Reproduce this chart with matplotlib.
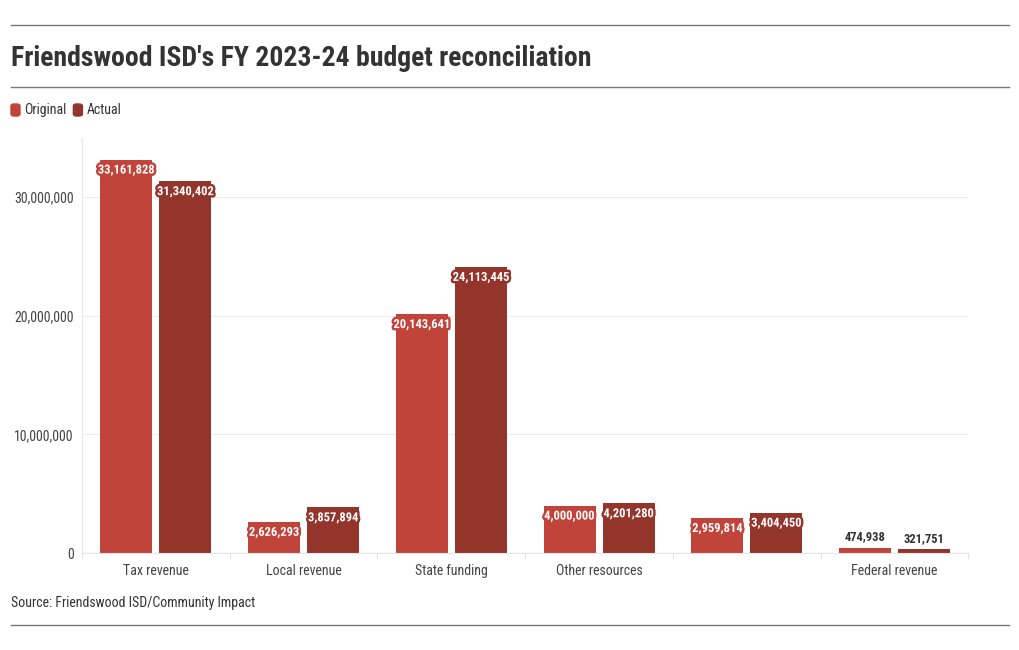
import matplotlib
matplotlib.use("Agg")
import matplotlib.pyplot as plt
import matplotlib.patheffects as pe
from matplotlib.patches import FancyBboxPatch
from matplotlib.ticker import FuncFormatter
import numpy as np

categories = ["Tax revenue", "Local revenue", "State funding", "Other resources", "", "Federal revenue"]
original = [33161828, 2626293, 20143641, 4000000, 2959814, 474938]
actual = [31340402, 3857894, 24113445, 4201280, 3404450, 321751]
series = ["Original", "Actual"]
colors = ["#c1443b", "#94352c"]

plt.rcParams['font.family'] = ['Roboto Condensed', 'Roboto', 'DejaVu Sans']

fig = plt.figure(figsize=(10.2, 6.5), dpi=100)
ax = fig.add_axes([0.0804, 0.149, 0.869, 0.639])

x = np.arange(len(categories))
w = 0.352
off = 0.2
for vals, c, sgn in [(original, colors[0], -1), (actual, colors[1], 1)]:
    bars = ax.bar(x + sgn * off, vals, width=w, color=c, zorder=2)
    for b, v in zip(bars, vals):
        cx = b.get_x() + b.get_width() / 2
        lbl = f"{v:,}"
        if v > 1500000:
            # label sits inside the top of the bar with a halo in bar colour
            t = ax.annotate(lbl, (cx, v), xytext=(0, -7.5), textcoords="offset points",
                            ha="center", va="center", fontsize=9, fontweight="bold",
                            color="white", zorder=4)
            t.set_path_effects([pe.Stroke(linewidth=3.5, foreground=c), pe.Normal()])
        else:
            ax.annotate(lbl, (cx, v), xytext=(0, 8), textcoords="offset points",
                        ha="center", va="center", fontsize=9, fontweight="bold",
                        color="#333333", zorder=4)

ax.set_xlim(-0.5, len(categories) - 0.5)
ax.set_ylim(0, 35000000)
ax.set_yticks([0, 10000000, 20000000, 30000000])
ax.yaxis.set_major_formatter(FuncFormatter(lambda v, p: f"{int(v):,}"))
ax.set_xticks(x)
ax.set_xticklabels(categories)
ax.set_xticks(np.arange(len(categories) + 1) - 0.5, minor=True)
ax.tick_params(axis="x", which="major", length=0, pad=8, labelsize=10, labelcolor="#444444")
ax.tick_params(axis="x", which="minor", length=4, color="#dddddd")
ax.tick_params(axis="y", length=0, pad=6, labelsize=10, labelcolor="#444444")
ax.grid(axis="y", color="#eeeeee", linewidth=1, zorder=0)
for s in ["top", "right"]:
    ax.spines[s].set_visible(False)
ax.spines["left"].set_color("#e6e6e6")
ax.spines["bottom"].set_color("#e6e6e6")

# header / footer
for yy in [25, 87, 625]:
    fig.add_artist(plt.Line2D([11 / 1020, 1009 / 1020], [1 - yy / 650] * 2, color="#777777", linewidth=1))
fig.text(11 / 1020, 1 - 58 / 650, "Friendswood ISD's FY 2023-24 budget reconciliation",
         fontsize=20, fontweight="bold", color="#333333", va="center", ha="left")

lx = 11
for name, c in zip(series, colors):
    fig.add_artist(FancyBboxPatch((lx / 1020, 1 - 116 / 650), 9 / 1020, 12 / 650,
                                  boxstyle="round,pad=0,rounding_size=0.003", color=c,
                                  transform=fig.transFigure))
    t = fig.text((lx + 13) / 1020, 1 - 110 / 650, name, fontsize=10, color="#333333", va="center")
    fig.canvas.draw()
    bb = t.get_window_extent()
    lx = bb.x1 + 7

fig.text(11 / 1020, 1 - 603 / 650, "Source: Friendswood ISD/Community Impact",
         fontsize=10, color="#333333", va="center")

fig.savefig("out.png", dpi=100)
